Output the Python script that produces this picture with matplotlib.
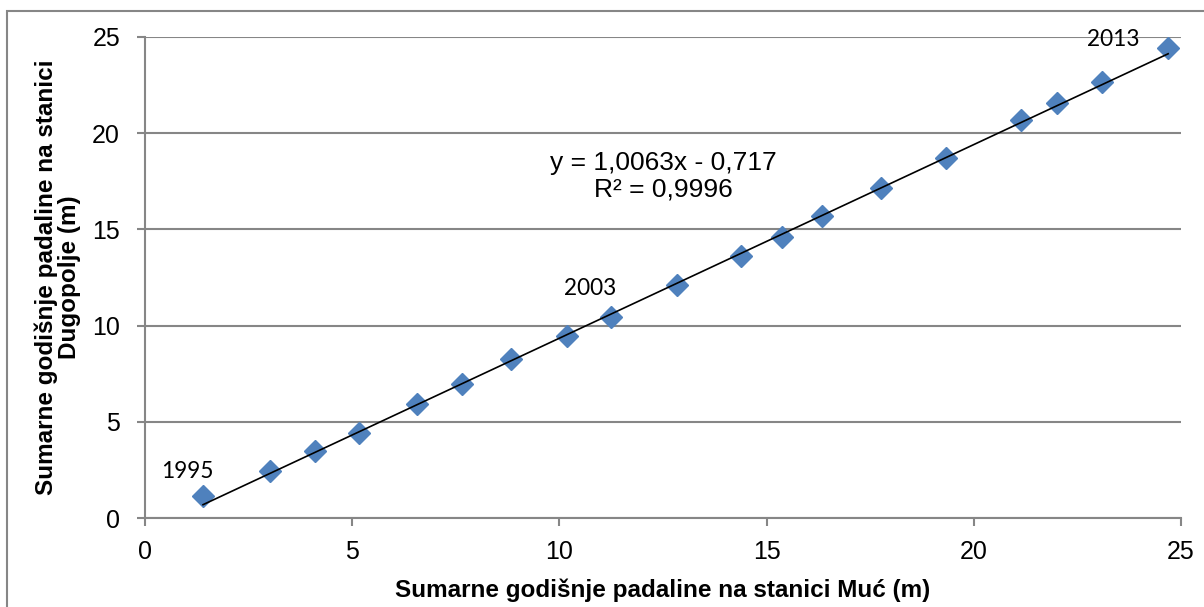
import numpy as np
import matplotlib.pyplot as plt
from matplotlib.patches import Rectangle

# annual precipitation sums (m), 1995-2013
years = list(range(1995, 2014))
muc = [1.40, 3.02, 4.10, 5.16, 6.56, 7.65, 8.83, 10.18, 11.24, 12.83,
       14.38, 15.37, 16.34, 17.76, 19.33, 21.14, 22.00, 23.09, 24.69]
dugopolje = [1.14, 2.44, 3.48, 4.42, 5.93, 6.96, 8.26, 9.46, 10.45, 12.11,
             13.62, 14.60, 15.70, 17.15, 18.71, 20.69, 21.57, 22.66, 24.43]
slope, intercept = 1.0063, -0.717
labelled_years = [1995, 2003, 2013]

plt.rcParams['font.family'] = ['Liberation Sans', 'DejaVu Sans']
gray = '#868686'

fig = plt.figure(figsize=(12.04, 6.07), dpi=100)
ax = fig.add_axes([145 / 1204, 1 - 518 / 607, (1181 - 145) / 1204, (518 - 37) / 607])

# outer chart border
fig.patches.append(Rectangle((7 / 1204, -0.1), 1.2, 1 - 11 / 607 + 0.1,
                             transform=fig.transFigure, fill=False,
                             edgecolor=gray, linewidth=1.5))

x = np.array(muc)
fit_x = np.array([x.min(), x.max()])
ax.plot(fit_x, slope * fit_x + intercept, color='black', linewidth=1.2, zorder=3)
ax.plot(muc, dugopolje, linestyle='none', marker='D', markersize=11,
        color='#4F81BD', zorder=2)

# label offsets in pixels from the point
offsets = {1995: (-16, 25), 2003: (-21, 28), 2013: (-55, 8)}
for yr in labelled_years:
    i = years.index(yr)
    ax.annotate(str(yr), (muc[i], dugopolje[i]), xytext=offsets[yr],
                textcoords='offset pixels', family='Lato', fontsize=16.3,
                ha='center', va='center')

ax.text(663 / 1204, 1 - 176 / 607, 'y = 1,0063x - 0,717\nR² = 0,9996',
        transform=fig.transFigure, fontsize=19, ha='center', va='center',
        linespacing=1.15)

ax.set_xlim(0, 25)
ax.set_ylim(0, 25)
ax.set_xticks(range(0, 26, 5))
ax.set_yticks(range(0, 26, 5))
ax.yaxis.grid(True, color=gray, linewidth=1.5)
ax.set_axisbelow(True)
for s in ['top', 'right']:
    ax.spines[s].set_visible(False)
for s in ['left', 'bottom']:
    ax.spines[s].set_color(gray)
    ax.spines[s].set_linewidth(1.5)
ax.tick_params(axis='both', direction='out', length=6, width=1.5, color=gray,
               labelsize=18)
ax.tick_params(axis='x', pad=10)
ax.tick_params(axis='y', pad=12)

ax.set_xlabel('Sumarne godišnje padaline na stanici Muć (m)', fontsize=17.5,
              fontweight='bold', labelpad=10)
ax.set_ylabel('Sumarne godišnje padaline na stanici\nDugopolje (m)', fontsize=17.5,
              fontweight='bold', labelpad=8, linespacing=1.0)

fig.savefig('out.png', dpi=100)
